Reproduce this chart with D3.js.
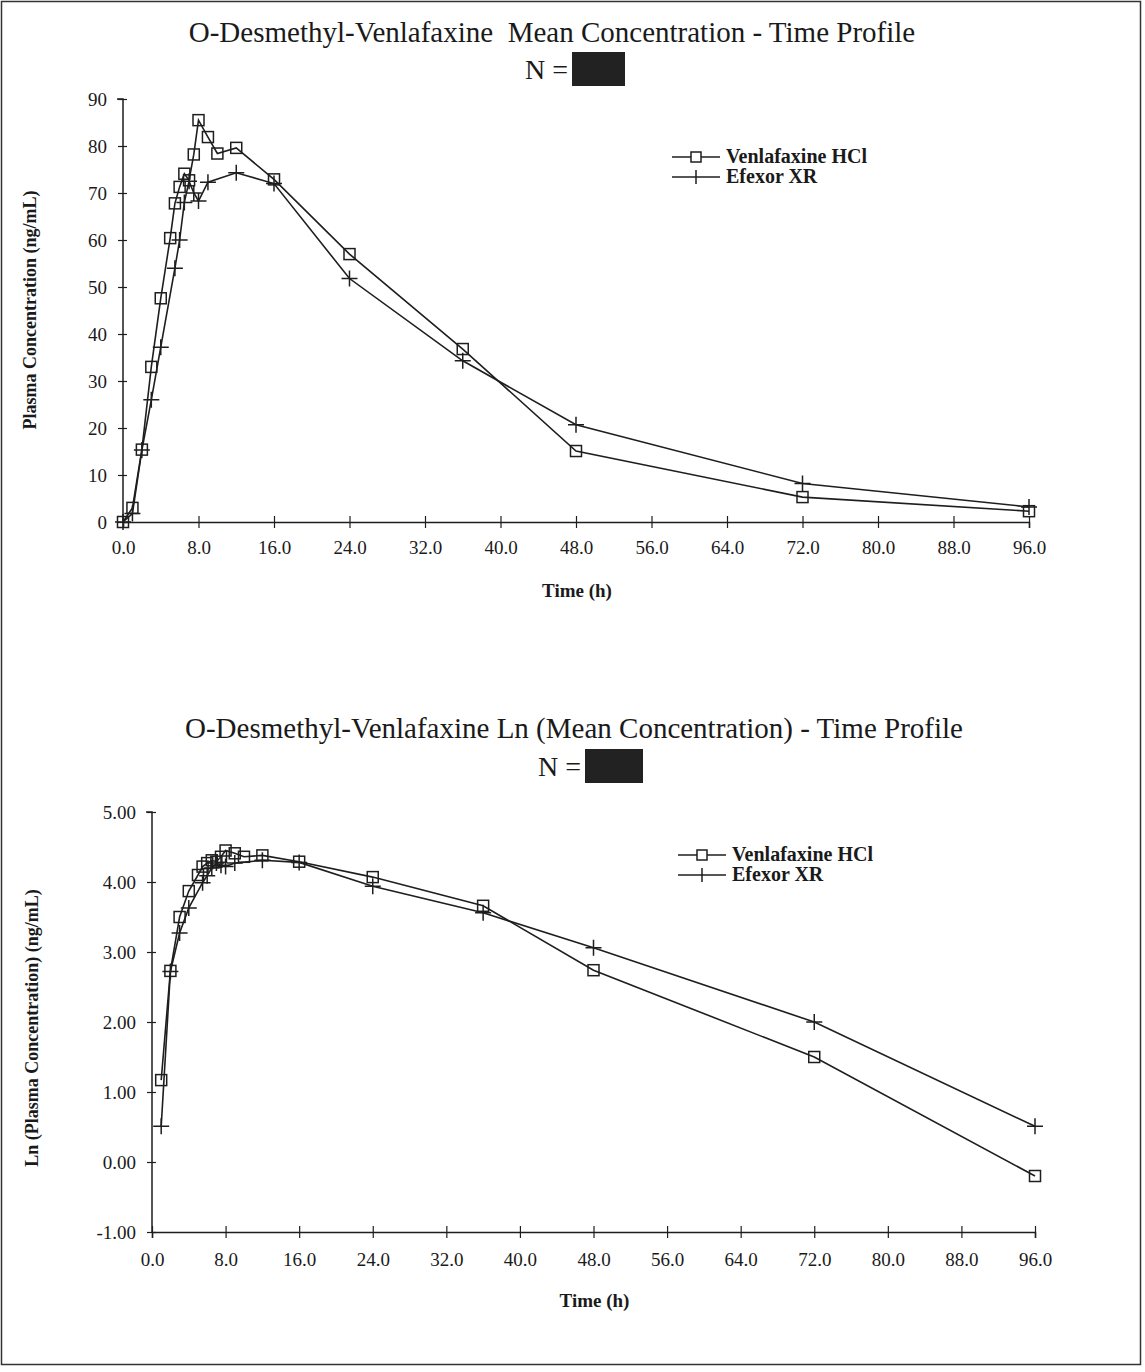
<!DOCTYPE html>
<html><head><meta charset="utf-8">
<script src="https://cdn.jsdelivr.net/npm/d3@7"></script>
<style>
body{margin:0;background:#fff;}
svg text{font-family:"Liberation Serif","Times New Roman",serif;fill:#1a1a1a;}
</style></head>
<body><svg id="c" width="1145" height="1372"></svg>
<script>
// ---- data ----
const seriesNames = ["Venlafaxine HCl", "Efexor XR"];
const xTicks = [0, 8, 16, 24, 32, 40, 48, 56, 64, 72, 80, 88, 96];
const yTicksTop = [0, 10, 20, 30, 40, 50, 60, 70, 80, 90];
const yTicksBottom = [-1, 0, 1, 2, 3, 4, 5];

const venlaTimes = [0, 1, 2, 3, 4, 5, 5.5, 6, 6.5, 7, 7.5, 8, 9, 10, 12, 16, 24, 36, 48, 72, 96];
const venlaConc  = [0, 3.0, 15.4, 33.0, 47.6, 60.4, 67.8, 71.3, 74.1, 72.7, 78.2, 85.5, 81.9, 78.4, 79.6, 72.9, 57.0, 36.8, 15.1, 5.3, 2.3];
const efexTimes  = [0, 1, 2, 3, 4, 5.5, 6, 6.5, 7, 7.5, 8, 9, 12, 16, 24, 36, 48, 72, 96];
const efexConc   = [0, 1.8, 15.3, 26.0, 37.2, 54.0, 60.0, 68.0, 72.5, 70.0, 68.3, 72.3, 74.3, 72.0, 51.8, 34.3, 20.7, 8.2, 3.2];

const venlaLnTimes = [1, 2, 3, 4, 5, 5.5, 6, 6.5, 7, 7.5, 8, 9, 10, 12, 16, 24, 36, 48, 72, 96];
const venlaLn      = [1.17, 2.73, 3.50, 3.87, 4.10, 4.22, 4.27, 4.31, 4.29, 4.36, 4.45, 4.41, 4.36, 4.38, 4.29, 4.07, 3.66, 2.74, 1.50, -0.20];
const efexLnTimes  = [1, 2, 3, 4, 5.5, 6, 6.5, 7, 7.5, 8, 9, 12, 16, 24, 36, 48, 72, 96];
const efexLn       = [0.51, 2.72, 3.27, 3.63, 3.99, 4.09, 4.20, 4.27, 4.24, 4.22, 4.27, 4.31, 4.28, 3.94, 3.56, 3.06, 2.00, 0.51];

// ---- drawing ----
const svg = d3.select("#c");
const ink = "#1e1e1e";
svg.append("rect").attr("x",1.5).attr("y",1.5).attr("width",1139).attr("height",1363)
  .attr("fill","none").attr("stroke","#333").attr("stroke-width",1.5);

function zip(ts, vs){ return ts.map((t,i)=>({t, v: vs[i]})); }

function drawPanel(cfg){
  const g = svg.append("g");
  const x = d3.scaleLinear().domain([0,96]).range(cfg.xRange);
  const y = d3.scaleLinear().domain(cfg.yDomain).range(cfg.yRange);

  // title
  g.append("text").attr("x",cfg.titleX).attr("y",cfg.titleY).attr("text-anchor","middle")
    .attr("font-size",29).text(cfg.title);
  g.append("text").attr("x",cfg.nX).attr("y",cfg.nY).attr("text-anchor","end")
    .attr("font-size",28).text("N =");
  g.append("rect").attr("x",cfg.box[0]).attr("y",cfg.box[1]).attr("width",cfg.box[2]).attr("height",cfg.box[3])
    .attr("fill","#222");

  // axes
  const ya = g.append("g").attr("transform",`translate(${cfg.xRange[0]},0)`)
    .call(d3.axisLeft(y).tickValues(cfg.yTicks).tickSize(5).tickPadding(11).tickFormat(cfg.yFmt));
  ya.selectAll(".tick line").attr("x1",4);
  const xa = g.append("g").attr("transform",`translate(0,${cfg.yRange[0]})`)
    .call(d3.axisBottom(x).tickValues(xTicks).tickSize(6).tickPadding(cfg.xPad).tickFormat(d3.format(".1f")));
  xa.selectAll(".tick line").attr("y1",-6);
  [ya,xa].forEach(a=>{
    a.select(".domain").attr("stroke",ink).attr("stroke-width",1.5);
    a.selectAll(".tick line").attr("stroke",ink).attr("stroke-width",1.2);
    a.selectAll("text").attr("font-size",19).attr("font-family","Liberation Serif").attr("fill",ink);
  });
  ya.select(".domain").attr("d",`M-6,${cfg.yRange[1]}H0V${cfg.yRange[0]}`);

  g.append("text").attr("x",(cfg.xRange[0]+cfg.xRange[1])/2+1).attr("y",cfg.xLabelY).attr("text-anchor","middle")
    .attr("font-size",19).attr("font-weight","bold").text("Time (h)");
  g.append("text").attr("transform",`translate(${cfg.yLabelX},${cfg.yLabelY}) rotate(-90)`)
    .attr("text-anchor","middle").attr("font-size",18).attr("font-weight","bold").text(cfg.yLabel);

  const line = d3.line().x(d=>x(d.t)).y(d=>y(d.v));
  const s1 = zip(cfg.t1, cfg.v1), s2 = zip(cfg.t2, cfg.v2);
  g.append("path").datum(s1).attr("d",line).attr("fill","none").attr("stroke",ink).attr("stroke-width",1.6);
  g.append("path").datum(s2).attr("d",line).attr("fill","none").attr("stroke",ink).attr("stroke-width",1.6);

  g.selectAll(".sq").data(s1).join("rect")
    .attr("x",d=>x(d.t)-5.5).attr("y",d=>y(d.v)-5.5).attr("width",11).attr("height",11)
    .attr("fill","none").attr("stroke",ink).attr("stroke-width",1.5);
  g.selectAll(".cr").data(s2).join("path")
    .attr("d",d=>`M${x(d.t)-8},${y(d.v)}h16M${x(d.t)},${y(d.v)-8}v16`)
    .attr("stroke",ink).attr("stroke-width",1.5);

  // legend
  const lx = cfg.legend[0], ly = cfg.legend[1];
  [0,1].forEach(i=>{
    const yy = ly + i*20;
    g.append("line").attr("x1",lx).attr("x2",lx+48).attr("y1",yy).attr("y2",yy).attr("stroke",ink).attr("stroke-width",1.5);
    if(i===0) g.append("rect").attr("x",lx+19).attr("y",yy-5).attr("width",10).attr("height",10).attr("fill","#fff").attr("stroke",ink).attr("stroke-width",1.5);
    else g.append("line").attr("x1",lx+24).attr("x2",lx+24).attr("y1",yy-7).attr("y2",yy+7).attr("stroke",ink).attr("stroke-width",1.5);
    g.append("text").attr("x",lx+54).attr("y",yy+6).attr("font-size",20).attr("font-weight","bold").text(seriesNames[i]);
  });
}

const fmtTop = d3.format("d");
const fmtBottom = v => d3.format(".2f")(v).replace("\u2212","-");

drawPanel({
  title:"O-Desmethyl-Venlafaxine\u00a0 Mean Concentration - Time Profile", titleX:552, titleY:42,
  nX:568, nY:79, box:[572,52,53,34],
  xRange:[123,1029], yDomain:[0,90], yRange:[522,99], yTicks:yTicksTop, yFmt:fmtTop,
  xPad:13, xLabelY:597, yLabelX:36, yLabelY:310, yLabel:"Plasma Concentration (ng/mL)",
  t1:venlaTimes, v1:venlaConc, t2:efexTimes, v2:efexConc, legend:[672,157]
});
drawPanel({
  title:"O-Desmethyl-Venlafaxine Ln (Mean Concentration) - Time Profile", titleX:574, titleY:738,
  nX:581, nY:776, box:[585,749,58,34],
  xRange:[152,1035], yDomain:[-1,5], yRange:[1232,812], yTicks:yTicksBottom, yFmt:fmtBottom,
  xPad:15, xLabelY:1307, yLabelX:38, yLabelY:1028, yLabel:"Ln (Plasma Concentration) (ng/mL)",
  t1:venlaLnTimes, v1:venlaLn, t2:efexLnTimes, v2:efexLn, legend:[678,855]
});
</script></body></html>
